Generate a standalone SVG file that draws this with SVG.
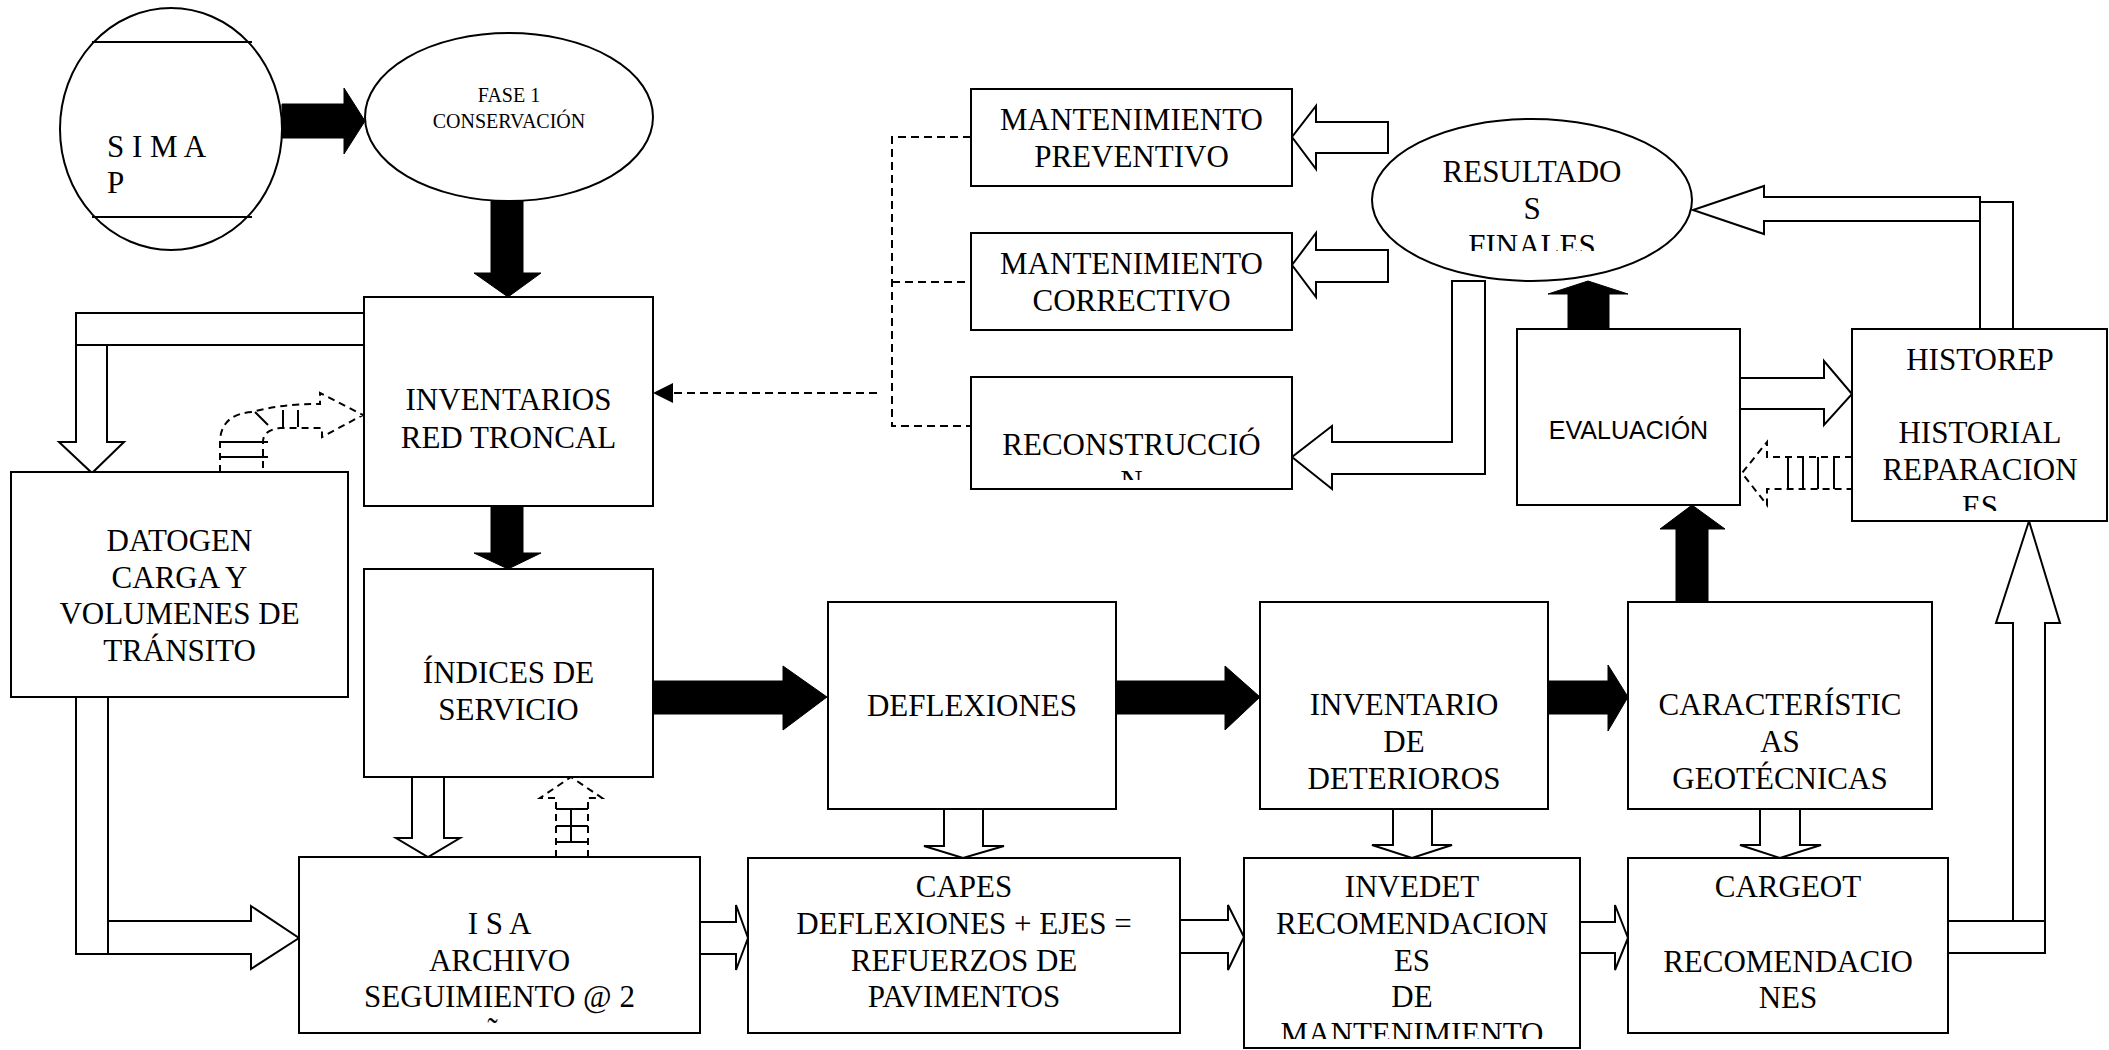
<svg xmlns="http://www.w3.org/2000/svg" width="2109" height="1050" viewBox="0 0 2109 1050">
<style>
  .box{fill:#fff;stroke:#000;stroke-width:2}
  .t{font-family:"Liberation Serif","Times New Roman",serif;font-size:31px;fill:#000;text-anchor:middle}
  .ts{font-family:"Liberation Sans",Arial,sans-serif;font-size:25px;fill:#000;text-anchor:middle}
  .black{fill:#000;stroke:#000;stroke-width:1}
  .hollow{fill:#fff;stroke:#000;stroke-width:2;stroke-linejoin:miter}
  .ln{fill:none;stroke:#000;stroke-width:2}
  .dash{fill:none;stroke:#000;stroke-width:2;stroke-dasharray:8 5}
  .dashw{fill:#fff;stroke:#000;stroke-width:2;stroke-dasharray:7 5}
</style>
<defs>
  <clipPath id="cRec"><rect x="971" y="377" width="321" height="103"/></clipPath>
  <clipPath id="cHis"><rect x="1852" y="329" width="255" height="182"/></clipPath>
  <clipPath id="cRes"><rect x="1372" y="119" width="321" height="132"/></clipPath>
  <clipPath id="cIsa"><rect x="299" y="857" width="401" height="168"/></clipPath>
  <clipPath id="cInv"><rect x="1244" y="858" width="336" height="181"/></clipPath>
</defs>
<rect width="2109" height="1050" fill="#fff"/>

<g id="connectors">
  <!-- black block arrows -->
  <polygon class="black" points="282,104 344,104 344,88 365,121 344,154 344,138 282,138"/>
  <polygon class="black" points="491,201 523,201 523,273 541,273 508,297 474,273 491,273"/>
  <polygon class="black" points="491,506 523,506 523,553 541,553 508,569 474,553 491,553"/>
  <polygon class="black" points="653,681 783,681 783,666 827,697 783,730 783,714 653,714"/>
  <polygon class="black" points="1116,681 1225,681 1225,666 1260,697 1225,730 1225,714 1116,714"/>
  <polygon class="black" points="1548,681 1608,681 1608,665 1628,697 1608,731 1608,714 1548,714"/>
  <polygon class="black" points="1676,602 1676,529 1660,529 1692,505 1725,529 1708,529 1708,602"/>
  <polygon class="black" points="1568,329 1568,294 1548,294 1588,281 1628,294 1609,294 1609,329"/>

  <!-- hollow block arrows -->
  <polygon class="hollow" points="364,313 76,313 76,442 59,442 92,473 124,442 107,442 107,345 364,345"/>
  <line class="ln" x1="76" y1="345" x2="107" y2="345"/>
  <polygon class="hollow" points="76,697 108,697 108,921 251,921 251,906 299,938 251,969 251,954 76,954"/>
  <line class="ln" x1="108" y1="921" x2="108" y2="954"/>
  <polygon class="hollow" points="412,777 444,777 444,838 460,838 428,857 396,838 412,838"/>
  <polygon class="hollow" points="700,922 736,922 736,905 748,938 736,970 736,954 700,954"/>
  <polygon class="hollow" points="944,809 983,809 983,846 1004,846 963,858 924,846 944,846"/>
  <polygon class="hollow" points="1180,920 1228,920 1228,905 1244,937 1228,970 1228,953 1180,953"/>
  <polygon class="hollow" points="1393,809 1432,809 1432,845 1452,845 1412,858 1372,845 1393,845"/>
  <polygon class="hollow" points="1580,922 1615,922 1615,905 1628,938 1615,970 1615,953 1580,953"/>
  <polygon class="hollow" points="1760,809 1800,809 1800,845 1821,845 1780,858 1740,845 1760,845"/>
  <polygon class="hollow" points="1948,921 2013,921 2013,623 1996,623 2029,521 2060,623 2045,623 2045,953 1948,953"/>
  <line class="ln" x1="2013" y1="921" x2="2045" y2="921"/>
  <polygon class="hollow" points="1740,378 1824,378 1824,361 1852,394 1824,425 1824,409 1740,409"/>
  <polygon class="hollow" points="1980,197 1764,197 1764,186 1693,210 1764,234 1764,221 1980,221"/>
  <rect class="hollow" x="1980" y="202" width="33" height="127"/>
  <polygon class="hollow" points="1485,281 1485,474 1332,474 1332,489 1292,457 1332,426 1332,442 1452,442 1452,281"/>
  <polygon class="hollow" points="1388,122 1316,122 1316,106 1292,137 1316,169 1316,153 1388,153"/>
  <polygon class="hollow" points="1388,250 1316,250 1316,233 1292,265 1316,297 1316,282 1388,282"/>

  <!-- dashed bracket connector -->
  <path class="dash" d="M971,137 H892 V426 H971 M892,282 H971 M877,393 H670"/>
  <polygon points="653,393 673,383 673,403" fill="#000"/>

  <!-- dashed striped arrow DATOGEN -> INVENTARIOS -->
  <path class="dashw" d="M220,472 V440 Q222,414 252,412 Q280,404 320,404 V393 L363,415 L322,437 V428 H280 Q263,430 263,442 V472"/>
  <path class="ln" stroke-width="1.6" d="M220,442 H268 M220,457 H268 M255,412 L268,425 M283,410 V427 M298,410 V427"/>

  <!-- dashed striped arrow ISA -> INDICES -->
  <path class="dashw" d="M556,857 V798 H540 L571,777 L602,798 H588 V857"/>
  <path class="ln" stroke-width="1.6" d="M556,809 H588 M556,826 H588 M556,842 H588 M571,809 V842"/>

  <!-- dashed striped arrow HISTOREP -> EVALUACION -->
  <path class="dashw" d="M1852,457 H1767 V442 L1742,473 L1767,505 V489 H1852"/>
  <path class="ln" stroke-width="1.6" d="M1788,457 V489 M1803,457 V489 M1818,457 V489 M1834,457 V489"/>
</g>

<g id="simap">
  <ellipse class="box" cx="171" cy="129" rx="111" ry="121"/>
  <line class="ln" x1="92" y1="42" x2="252" y2="42"/>
  <line class="ln" x1="92" y1="217" x2="252" y2="217"/>
  <text class="t" x="107" y="157" style="text-anchor:start">S I M A</text>
  <text class="t" x="107" y="193" style="text-anchor:start">P</text>
</g>

<g id="fase1">
  <ellipse class="box" cx="509" cy="117" rx="144" ry="84"/>
  <text class="t" x="509" y="102" style="font-size:20px">FASE 1</text>
  <text class="t" x="509" y="128" style="font-size:20px">CONSERVACIÓN</text>
</g>

<g id="inventarios">
  <rect class="box" x="364" y="297" width="289" height="209"/>
  <text class="t" x="508.5" y="410">INVENTARIOS</text>
  <text class="t" x="508.5" y="448">RED TRONCAL</text>
</g>

<g id="datogen">
  <rect class="box" x="11" y="472" width="337" height="225"/>
  <text class="t" x="179.5" y="551">DATOGEN</text>
  <text class="t" x="179.5" y="588">CARGA Y</text>
  <text class="t" x="179.5" y="624">VOLUMENES DE</text>
  <text class="t" x="179.5" y="661">TRÁNSITO</text>
</g>

<g id="indices">
  <rect class="box" x="364" y="569" width="289" height="208"/>
  <text class="t" x="508.5" y="683">ÍNDICES DE</text>
  <text class="t" x="508.5" y="720">SERVICIO</text>
</g>

<g id="mant-preventivo">
  <rect class="box" x="971" y="89" width="321" height="97"/>
  <text class="t" x="1131.5" y="130">MANTENIMIENTO</text>
  <text class="t" x="1131.5" y="167">PREVENTIVO</text>
</g>

<g id="mant-correctivo">
  <rect class="box" x="971" y="233" width="321" height="97"/>
  <text class="t" x="1131.5" y="274">MANTENIMIENTO</text>
  <text class="t" x="1131.5" y="311">CORRECTIVO</text>
</g>

<g id="reconstruccion">
  <rect class="box" x="971" y="377" width="321" height="112"/>
  <g clip-path="url(#cRec)">
    <text class="t" x="1131.5" y="455">RECONSTRUCCIÓ</text>
    <text class="t" x="1131.5" y="492">N</text>
  </g>
</g>

<g id="resultados">
  <ellipse class="box" cx="1532" cy="200" rx="160" ry="81"/>
  <g clip-path="url(#cRes)">
    <text class="t" x="1532" y="182">RESULTADO</text>
    <text class="t" x="1532" y="219">S</text>
    <text class="t" x="1532" y="256">FINALES</text>
  </g>
</g>

<g id="evaluacion">
  <rect class="box" x="1517" y="329" width="223" height="176"/>
  <text class="ts" x="1628.5" y="439">EVALUACIÓN</text>
</g>

<g id="historep">
  <rect class="box" x="1852" y="329" width="255" height="192"/>
  <g clip-path="url(#cHis)">
    <text class="t" x="1980" y="370">HISTOREP</text>
    <text class="t" x="1980" y="443">HISTORIAL</text>
    <text class="t" x="1980" y="480">REPARACION</text>
    <text class="t" x="1980" y="517">ES</text>
  </g>
</g>

<g id="deflexiones">
  <rect class="box" x="828" y="602" width="288" height="207"/>
  <text class="t" x="972" y="716">DEFLEXIONES</text>
</g>

<g id="inventario-deterioros">
  <rect class="box" x="1260" y="602" width="288" height="207"/>
  <text class="t" x="1404" y="715">INVENTARIO</text>
  <text class="t" x="1404" y="752">DE</text>
  <text class="t" x="1404" y="789">DETERIOROS</text>
</g>

<g id="caracteristicas">
  <rect class="box" x="1628" y="602" width="304" height="207"/>
  <text class="t" x="1780" y="715">CARACTERÍSTIC</text>
  <text class="t" x="1780" y="752">AS</text>
  <text class="t" x="1780" y="789">GEOTÉCNICAS</text>
</g>

<g id="isa">
  <rect class="box" x="299" y="857" width="401" height="176"/>
  <g clip-path="url(#cIsa)">
    <text class="t" x="499.5" y="934">I S A</text>
    <text class="t" x="499.5" y="971">ARCHIVO</text>
    <text class="t" x="499.5" y="1007">SEGUIMIENTO @ 2</text>
    <text class="t" x="499.5" y="1040">años</text>
  </g>
</g>

<g id="capes">
  <rect class="box" x="748" y="858" width="432" height="175"/>
  <text class="t" x="964" y="897">CAPES</text>
  <text class="t" x="964" y="934">DEFLEXIONES + EJES =</text>
  <text class="t" x="964" y="971">REFUERZOS DE</text>
  <text class="t" x="964" y="1007">PAVIMENTOS</text>
</g>

<g id="invedet">
  <rect class="box" x="1244" y="858" width="336" height="190"/>
  <g clip-path="url(#cInv)">
    <text class="t" x="1412" y="897">INVEDET</text>
    <text class="t" x="1412" y="934">RECOMENDACION</text>
    <text class="t" x="1412" y="971">ES</text>
    <text class="t" x="1412" y="1007">DE</text>
    <text class="t" x="1412" y="1044">MANTENIMIENTO</text>
  </g>
</g>

<g id="cargeot">
  <rect class="box" x="1628" y="858" width="320" height="175"/>
  <text class="t" x="1788" y="897">CARGEOT</text>
  <text class="t" x="1788" y="972">RECOMENDACIO</text>
  <text class="t" x="1788" y="1008">NES</text>
</g>
</svg>
